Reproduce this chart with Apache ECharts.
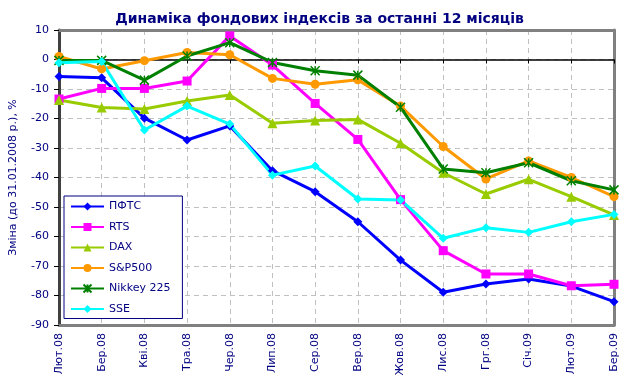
<!DOCTYPE html>
<html><head><meta charset="utf-8">
<script src="https://cdn.jsdelivr.net/npm/echarts@6/dist/echarts.min.js"></script>
<style>html,body{margin:0;padding:0;background:#fff}#c{width:639px;height:387px}</style>
</head><body><div id="c"></div>
<script>
const categories = ['Лют.08','Бер.08','Кві.08','Тра.08','Чер.08','Лип.08','Сер.08','Вер.08','Жов.08','Лис.08','Грг.08','Січ.09','Лют.09','Бер.09'];
const pfts   = [-5.8, -6.2, -19.9, -27.3, -22.5, -37.7, -44.8, -55.0, -68.0, -78.9, -76.1, -74.4, -76.8, -82.1];
const rts    = [-13.4, -9.8, -9.8, -7.3, 8.0, -1.9, -14.9, -27.1, -47.5, -64.8, -72.7, -72.7, -76.7, -76.2];
const dax    = [-13.7, -16.3, -16.8, -14.1, -12.0, -21.6, -20.7, -20.3, -28.4, -38.4, -45.6, -40.6, -46.5, -52.7];
const sp500  = [1.0, -3.2, -0.4, 2.4, 1.6, -6.4, -8.4, -6.9, -15.8, -29.5, -40.5, -34.4, -40.0, -46.5];
const nikkei = [-0.3, -0.3, -7.0, 1.2, 5.7, -1.0, -3.8, -5.3, -16.2, -37.1, -38.4, -35.0, -41.1, -44.2];
const sse    = [-1.1, -0.7, -23.9, -15.8, -21.9, -39.2, -36.1, -47.3, -47.6, -60.6, -57.0, -58.6, -55.0, -52.5];
const yTicks = { min: -90, max: 10, interval: 10 };

const navy = '#000080';
const font = 'Verdana, "DejaVu Sans", sans-serif';
const grayBorder = { show: true, onZero: false, lineStyle: { color: '#808080', width: 3 } };
function s(name, data, color, symbol, size, extra) {
  return Object.assign({
    name, type: 'line', data, xAxisIndex: 0, yAxisIndex: 0,
    symbol, symbolSize: size, showSymbol: true,
    lineStyle: { color, width: 3 },
    itemStyle: { color },
    emphasis: { disabled: true }
  }, extra || {});
}
const chart = echarts.init(document.getElementById('c'), null, { renderer: 'canvas' });
chart.setOption({
  animation: false,
  backgroundColor: '#fff',
  title: {
    text: 'Динаміка фондових індексів за останні 12 місяців',
    left: 'center', top: 7,
    textStyle: { color: navy, fontSize: 14, fontWeight: 'bold', fontFamily: font }
  },
  grid: { left: 56, right: 25, top: 30, bottom: 62, show: false },
  legend: {
    orient: 'vertical', left: 64, top: 196,
    padding: [5, 12, 4, 6],
    borderColor: navy, borderWidth: 1, backgroundColor: '#fff',
    itemWidth: 33, itemHeight: 10, itemGap: 9.5,
    textStyle: { color: navy, fontSize: 11, fontFamily: font },
    data: ['ПФТС','RTS','DAX','S&P500','Nikkey 225','SSE']
  },
  xAxis: [{
    type: 'category', data: categories, boundaryGap: false, position: 'bottom',
    axisLine: { show: false, onZero: false },
    axisTick: { show: false },
    splitLine: { show: true, lineStyle: { color: '#c0c0c0', type: [5, 4], width: 1 } },
    axisLabel: { rotate: 90, color: navy, fontSize: 11, fontFamily: font, margin: 8, interval: 0 }
  }, {
    type: 'category', data: categories, boundaryGap: false, position: 'bottom',
    axisLine: { show: true, onZero: true, lineStyle: { color: '#000', width: 1.5 } },
    axisTick: { show: true, inside: false, length: 4, interval: 0, lineStyle: { color: '#000' } },
    axisLabel: { show: false },
    splitLine: { show: false }
  }, {
    type: 'category', data: categories, boundaryGap: false, position: 'bottom',
    axisLine: grayBorder, axisTick: { show: false }, axisLabel: { show: false }, splitLine: { show: false }
  }, {
    type: 'category', data: categories, boundaryGap: false, position: 'top',
    axisLine: grayBorder, axisTick: { show: false }, axisLabel: { show: false }, splitLine: { show: false }
  }],
  yAxis: [{
    type: 'value', min: yTicks.min, max: yTicks.max, interval: yTicks.interval,
    name: 'Зміна (до 31.01.2008 р.), %', nameLocation: 'middle', nameGap: 40,
    nameTextStyle: { color: navy, fontSize: 11, fontFamily: font },
    axisLine: { show: true, onZero: false, lineStyle: { color: '#404040', width: 3 } },
    axisTick: { show: true, length: 5, lineStyle: { color: '#000', width: 1 } },
    axisLabel: { color: navy, fontSize: 11, fontFamily: font, margin: 10 },
    splitLine: { show: true, lineStyle: { color: '#c0c0c0', type: [5, 4], width: 1 } }
  }, {
    type: 'value', min: yTicks.min, max: yTicks.max, interval: yTicks.interval, position: 'right',
    axisLine: grayBorder, axisTick: { show: false }, axisLabel: { show: false }, splitLine: { show: false }
  }],
  series: [
    s('ПФТС', pfts, '#0000FF', 'diamond', 9),
    s('RTS', rts, '#FF00FF', 'rect', 9),
    s('DAX', dax, '#99CC00', 'triangle', 10),
    s('S&P500', sp500, '#FF9900', 'circle', 9),
    s('Nikkey 225', nikkei, '#008000', 'path://M0,0L10,10M10,0L0,10M5,0L5,10', 9,
      { itemStyle: { color: '#008000', borderColor: '#008000', borderWidth: 1.5 } }),
    s('SSE', sse, '#00FFFF', 'diamond', 9)
  ]
});
</script></body></html>
